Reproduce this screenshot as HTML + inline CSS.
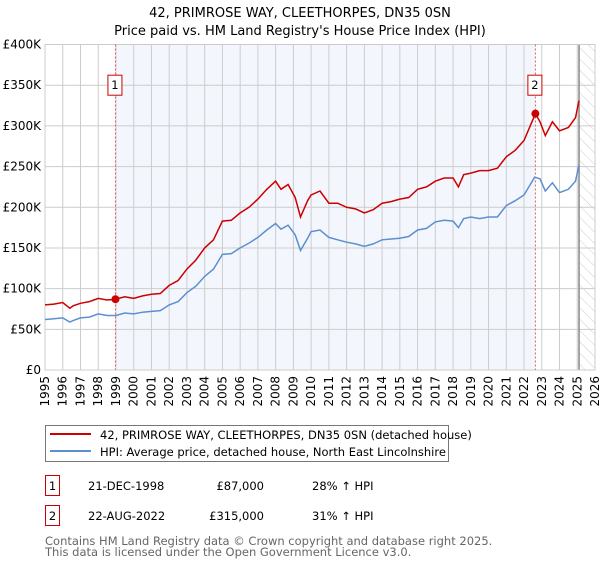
<!DOCTYPE html>
<html><head><meta charset="utf-8"><style>
body{margin:0;background:#fff;font-family:"DejaVu Sans","Liberation Sans",sans-serif;}
svg text{font-family:"DejaVu Sans","Liberation Sans",sans-serif;}
</style></head><body>
<svg id="chart" width="600" height="560" xmlns="http://www.w3.org/2000/svg">
<defs><pattern id="hatch" width="8" height="8" patternUnits="userSpaceOnUse" patternTransform="rotate(-45)"><line x1="0" y1="0" x2="0" y2="8" stroke="#ccc" stroke-width="1"/></pattern></defs>
<text x="300" y="17" text-anchor="middle" font-size="13">42, PRIMROSE WAY, CLEETHORPES, DN35 0SN</text>
<text x="300" y="35" text-anchor="middle" font-size="13">Price paid vs. HM Land Registry's House Price Index (HPI)</text>
<g id="plot"></g>
<g>
<rect x="45.5" y="425.5" width="403" height="36" fill="#fff" stroke="#777"/>
<line x1="50" y1="434" x2="91" y2="434" stroke="#cc0000" stroke-width="2"/>
<text x="100" y="439" font-size="11.5">42, PRIMROSE WAY, CLEETHORPES, DN35 0SN (detached house)</text>
<line x1="50" y1="451" x2="91" y2="451" stroke="#5b8fd0" stroke-width="2"/>
<text x="100" y="456" font-size="11.5">HPI: Average price, detached house, North East Lincolnshire</text>
</g>
<g font-size="11.5">
<rect x="45.5" y="475.5" width="14" height="20" fill="#fff" stroke="#cc0000"/><text x="52.5" y="490" text-anchor="middle">1</text>
<text x="88" y="490">21-DEC-1998</text><text x="264" y="490" text-anchor="end">£87,000</text><text x="312" y="490">28% ↑ HPI</text>
<rect x="45.5" y="505.5" width="14" height="20" fill="#fff" stroke="#cc0000"/><text x="52.5" y="520" text-anchor="middle">2</text>
<text x="88" y="520">22-AUG-2022</text><text x="264" y="520" text-anchor="end">£315,000</text><text x="312" y="520">31% ↑ HPI</text>
</g>
<text x="45" y="545" font-size="11.5" fill="#666">Contains HM Land Registry data © Crown copyright and database right 2025.</text>
<text x="45" y="556" font-size="11.5" fill="#666">This data is licensed under the Open Government Licence v3.0.</text>
</svg>
<script>
const hpiYears=[1995,1995.5,1996,1996.4,1996.6,1997,1997.5,1998,1998.5,1999,1999.5,2000,2000.5,2001,2001.5,2002,2002.5,2003,2003.5,2004,2004.5,2005,2005.5,2006,2006.5,2007,2007.5,2008,2008.3,2008.7,2009.1,2009.4,2009.8,2010,2010.5,2011,2011.5,2012,2012.5,2013,2013.5,2014,2014.5,2015,2015.5,2016,2016.5,2017,2017.5,2018,2018.3,2018.6,2019,2019.5,2020,2020.5,2021,2021.5,2022,2022.6,2022.9,2023.2,2023.6,2024,2024.5,2024.9,2025.1];
const hpiValues=[62,63,64,59,61,64,65,69,67,67,70,69,71,72,73,80,84,95,103,115,124,142,143,150,156,163,172,180,173,178,166,147,162,170,172,163,160,157,155,152,155,160,161,162,164,172,174,182,184,183,175,186,188,186,188,188,202,208,215,237,235,220,230,218,222,232,252];
const priceYears=[1995,1995.5,1996,1996.4,1996.6,1997,1997.5,1998,1998.5,1998.97,1999.5,2000,2000.5,2001,2001.5,2002,2002.5,2003,2003.5,2004,2004.5,2005,2005.5,2006,2006.5,2007,2007.5,2008,2008.3,2008.7,2009.1,2009.4,2009.8,2010,2010.5,2011,2011.5,2012,2012.5,2013,2013.5,2014,2014.5,2015,2015.5,2016,2016.5,2017,2017.5,2018,2018.3,2018.6,2019,2019.5,2020,2020.5,2021,2021.5,2022,2022.64,2022.9,2023.2,2023.6,2024,2024.5,2024.9,2025.1];
const priceValues=[80,81,83,76,79,82,84,88,86,87,90,88,91,93,94,104,110,124,135,150,160,183,184,193,200,210,222,232,222,228,212,188,208,215,220,205,205,200,198,193,197,205,207,210,212,222,225,232,236,236,225,240,242,245,245,248,262,270,282,315,305,288,305,294,298,310,331];
const yTicks=[0,50,100,150,200,250,300,350,400];
const yTickLabels=["£0","£50K","£100K","£150K","£200K","£250K","£300K","£350K","£400K"];
const xTicks=[1995,1996,1997,1998,1999,2000,2001,2002,2003,2004,2005,2006,2007,2008,2009,2010,2011,2012,2013,2014,2015,2016,2017,2018,2019,2020,2021,2022,2023,2024,2025,2026];
const sales=[[1998.97,87,"1"],[2022.64,315,"2"]];
const dataEnd=2025.1;
const L=45,R=595,T=44.5,B=370;
const xs=v=>L+(v-1995)/31*(R-L);
const ys=v=>B-v/400*(B-T);
const NS="http://www.w3.org/2000/svg";
const g=document.getElementById('plot');
function mk(t,a){const e=document.createElementNS(NS,t);for(const k in a)e.setAttribute(k,a[k]);g.appendChild(e);return e;}
let e;
e=mk('rect',{x:xs(sales[0][0]),y:T,width:xs(sales[1][0])-xs(sales[0][0]),height:B-T,fill:'#eef3fc',opacity:0.7});


e=mk('rect',{x:xs(dataEnd),y:T,width:R-xs(dataEnd),height:B-T,fill:'url(#hatch)'});


yTicks.forEach((v,i)=>{
 e=mk('line',{x1:L,x2:R,y1:ys(v),y2:ys(v),stroke:'#ccc'});
 
 
 e=mk('text',{x:L-4,y:ys(v)+4,'text-anchor':'end','font-size':12});
 e.textContent=yTickLabels[i];
 
 
});
xTicks.forEach(v=>{
 e=mk('line',{x1:xs(v),x2:xs(v),y1:T,y2:B,stroke:'#ccc'});
 
 
 e=mk('text',{x:0,y:0,'text-anchor':'end','font-size':12,transform:`translate(${xs(v)+4},${B+6}) rotate(-90)`});
 e.textContent=v;
 
 
});
e=mk('line',{x1:xs(dataEnd),x2:xs(dataEnd),y1:T,y2:B,stroke:'#888','stroke-width':1.5});


e=mk('rect',{x:L,y:T,width:R-L,height:B-T,fill:'none',stroke:'#ccc'});


sales.forEach(s=>{
 e=mk('line',{x1:xs(s[0]),x2:xs(s[0]),y1:T,y2:B,stroke:'#e06060','stroke-dasharray':'2,2'});
 
 
});
e=mk('path',{d:hpiYears.map((y,i)=>(i?'L':'M')+xs(y).toFixed(1)+','+ys(hpiValues[i]).toFixed(1)).join(''),fill:'none',stroke:'#5b8fd0','stroke-width':1.5});


e=mk('path',{d:priceYears.map((y,i)=>(i?'L':'M')+xs(y).toFixed(1)+','+ys(priceValues[i]).toFixed(1)).join(''),fill:'none',stroke:'#cc0000','stroke-width':1.5});


sales.forEach(s=>{
 e=mk('circle',{cx:xs(s[0]),cy:ys(s[1]),r:4,fill:'#cc0000'});
 
 
 e=mk('rect',{x:xs(s[0])-7.5,y:ys(350)-10,width:14,height:20,fill:'#fff',stroke:'#cc0000'});
 
 
 e=mk('text',{x:xs(s[0])-0.5,y:ys(350)+4,'text-anchor':'middle','font-size':11.5});
 e.textContent=s[2];
 
 
});
</script>
</body></html>
